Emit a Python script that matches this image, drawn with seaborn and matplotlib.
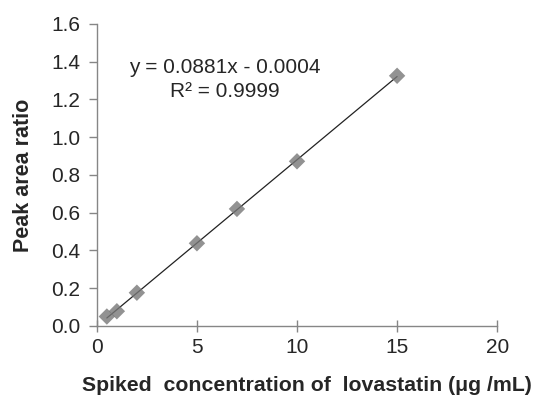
import numpy as np
import pandas as pd
import seaborn as sns
import matplotlib.pyplot as plt

conc = [0.5, 1, 2, 5, 7, 10, 15]
ratio = [0.050, 0.078, 0.176, 0.438, 0.620, 0.872, 1.325]
df = pd.DataFrame({"conc": conc, "ratio": ratio})

sns.set_theme(style="white")
plt.rcParams["font.family"] = ["Liberation Sans", "DejaVu Sans"]

fig = plt.figure(figsize=(5.41, 3.98), dpi=100)
ax = fig.add_axes([0.179, 0.181, 0.740, 0.759])

sns.regplot(x="conc", y="ratio", data=df, ax=ax, ci=None, truncate=True,
            marker="D",
            scatter_kws={"s": 70, "color": "#777777", "edgecolor": "none", "zorder": 3},
            line_kws={"color": "#222222", "lw": 0.9})

ax.set_xlim(0, 20)
ax.set_ylim(0, 1.6)
ax.set_xticks([0, 5, 10, 15, 20])
ax.set_yticks(np.arange(0, 1.61, 0.2))
ax.set_yticklabels([f"{v:.1f}" for v in np.arange(0, 1.61, 0.2)])

for s in ["top", "right"]:
    ax.spines[s].set_visible(False)
for s in ["left", "bottom"]:
    ax.spines[s].set_color("#868686")
    ax.spines[s].set_linewidth(1)

ax.tick_params(axis="y", direction="out", length=6, color="#868686", width=1,
               labelsize=15, pad=6, left=True)
ax.tick_params(axis="x", direction="inout", length=8, color="#868686", width=1,
               labelsize=15, pad=5, bottom=True)

ax.set_xlabel("Spiked  concentration of  lovastatin (\u03bcg /mL)",
              fontsize=15.3, fontweight="bold")
ax.xaxis.set_label_coords(0.525, -0.165)
ax.set_ylabel("Peak area ratio", fontsize=15.5, fontweight="bold", labelpad=12)

ax.text(6.4, 1.367, "y = 0.0881x - 0.0004", fontsize=15, ha="center", va="center")
ax.text(6.4, 1.24, "R\u00b2 = 0.9999", fontsize=15, ha="center", va="center")

fig.savefig("out.png", dpi=100)
